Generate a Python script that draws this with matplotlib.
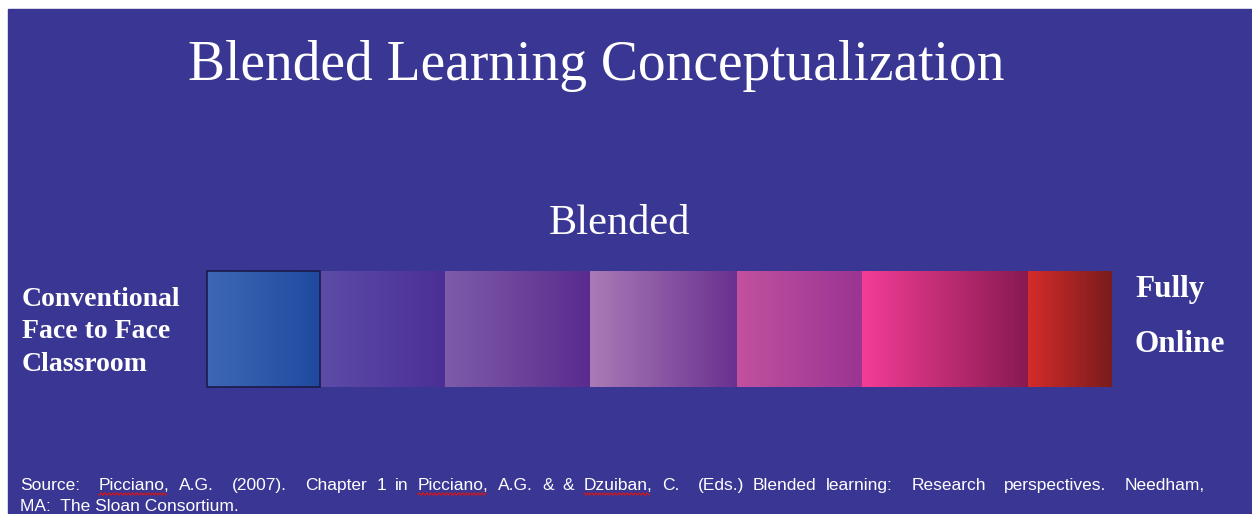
import re
import numpy as np
import matplotlib.pyplot as plt
from matplotlib.colors import to_rgb
from matplotlib.patches import Rectangle

# continuum segments (left edge, right edge) and their gradient colours
seg_left = [207, 320, 445, 590, 737, 862, 1028]
seg_right = [320, 445, 590, 737, 862, 1028, 1112]
color_start = ['#3e68b6', '#5d4ca8', '#7e5ca9', '#a97ab6', '#c2519f', '#f23d95', '#d42b2b']
color_end = ['#1f4a9f', '#4b2f96', '#5a2b8f', '#6b3190', '#9b3493', '#891a52', '#7a1c1c']

title = 'Blended Learning Conceptualization'
mid_label = 'Blended'
left_label = 'Conventional\nFace to Face\nClassroom'
right_label = ['Fully', 'Online']
source_line1 = ('Source:  Picciano, A.G.  (2007).  Chapter 1 in Picciano, A.G. & & Dzuiban, C.  (Eds.) '
                'Blended learning:  Research  perspectives.  Needham,')
source_line2 = 'MA:  The Sloan Consortium.'
misspelled = ['Picciano,', 'Dzuiban,']

bg = '#3a3693'
W, H = 1252, 514

fig = plt.figure(figsize=(W / 100, H / 100), dpi=100)
fig.patch.set_facecolor('white')
ax = fig.add_axes([0, 0, 1, 1])
ax.set_xlim(0, W)
ax.set_ylim(H, 0)
ax.axis('off')

ax.add_patch(Rectangle((8, 9), W - 8, H - 9, color=bg, zorder=0))

# gradient blocks
top, bottom = 271, 387
for x0, x1, c0, c1 in zip(seg_left, seg_right, color_start, color_end):
    a, b = np.array(to_rgb(c0)), np.array(to_rgb(c1))
    t = np.linspace(0, 1, 64)[:, None]
    grad = (a * (1 - t) + b * t)[None, :, :]
    ax.imshow(grad, extent=(x0, x1, bottom, top), aspect='auto', zorder=2, interpolation='bilinear')
ax.add_patch(Rectangle((seg_left[0], top), seg_right[0] - seg_left[0], bottom - top,
                       fill=False, ec='#1a1a4a', lw=1.2, zorder=3))

serif = 'Liberation Serif'
ax.text(596, 66, title, fontsize=40, family=serif, color='white', ha='center', va='center')
ax.text(620, 224, mid_label, fontsize=30.5, family=serif, color='white', ha='center', va='center')
ax.text(22, 332, left_label, fontsize=20, family=serif, weight='bold', color='white',
        ha='left', va='center', linespacing=1.39)
ax.text(1135, 289, right_label[0], fontsize=22.5, family=serif, weight='bold', color='white',
        ha='left', va='center')
ax.text(1135, 345, right_label[1], fontsize=22.5, family=serif, weight='bold', color='white',
        ha='left', va='center')

# justified source line + spell-check squiggles
renderer = fig.canvas.get_renderer()
src_kw = dict(fontsize=12.5, family='Liberation Sans', color='white', ha='left', va='baseline')
x_start, x_end, y1, y2 = 20, 1205, 490, 511
parts = re.split(r'( +)', source_line1)
words = parts[0::2]
gaps = [len(s) for s in parts[1::2]]
arts, widths = [], []
for w in words:
    tx = ax.text(0, y1, w, **src_kw)
    bb = tx.get_window_extent(renderer)
    arts.append(tx)
    widths.append(bb.width)
unit = (x_end - x_start - sum(widths)) / sum(gaps)
x = x_start
for i, (tx, w, wd) in enumerate(zip(arts, words, widths)):
    tx.set_x(x)
    if w in misspelled:
        xs = np.linspace(x, x + wd - 3, int(wd))
        ax.plot(xs, y1 + 4 + 1.2 * np.sin(xs * 1.6), color='#d01818', lw=0.9)
    x += wd
    if i < len(gaps):
        x += unit * gaps[i]
ax.text(x_start, y2, source_line2, **src_kw)

ax.set_xlim(0, W)
ax.set_ylim(H, 0)
fig.savefig('out.png', dpi=100, facecolor=fig.get_facecolor())
